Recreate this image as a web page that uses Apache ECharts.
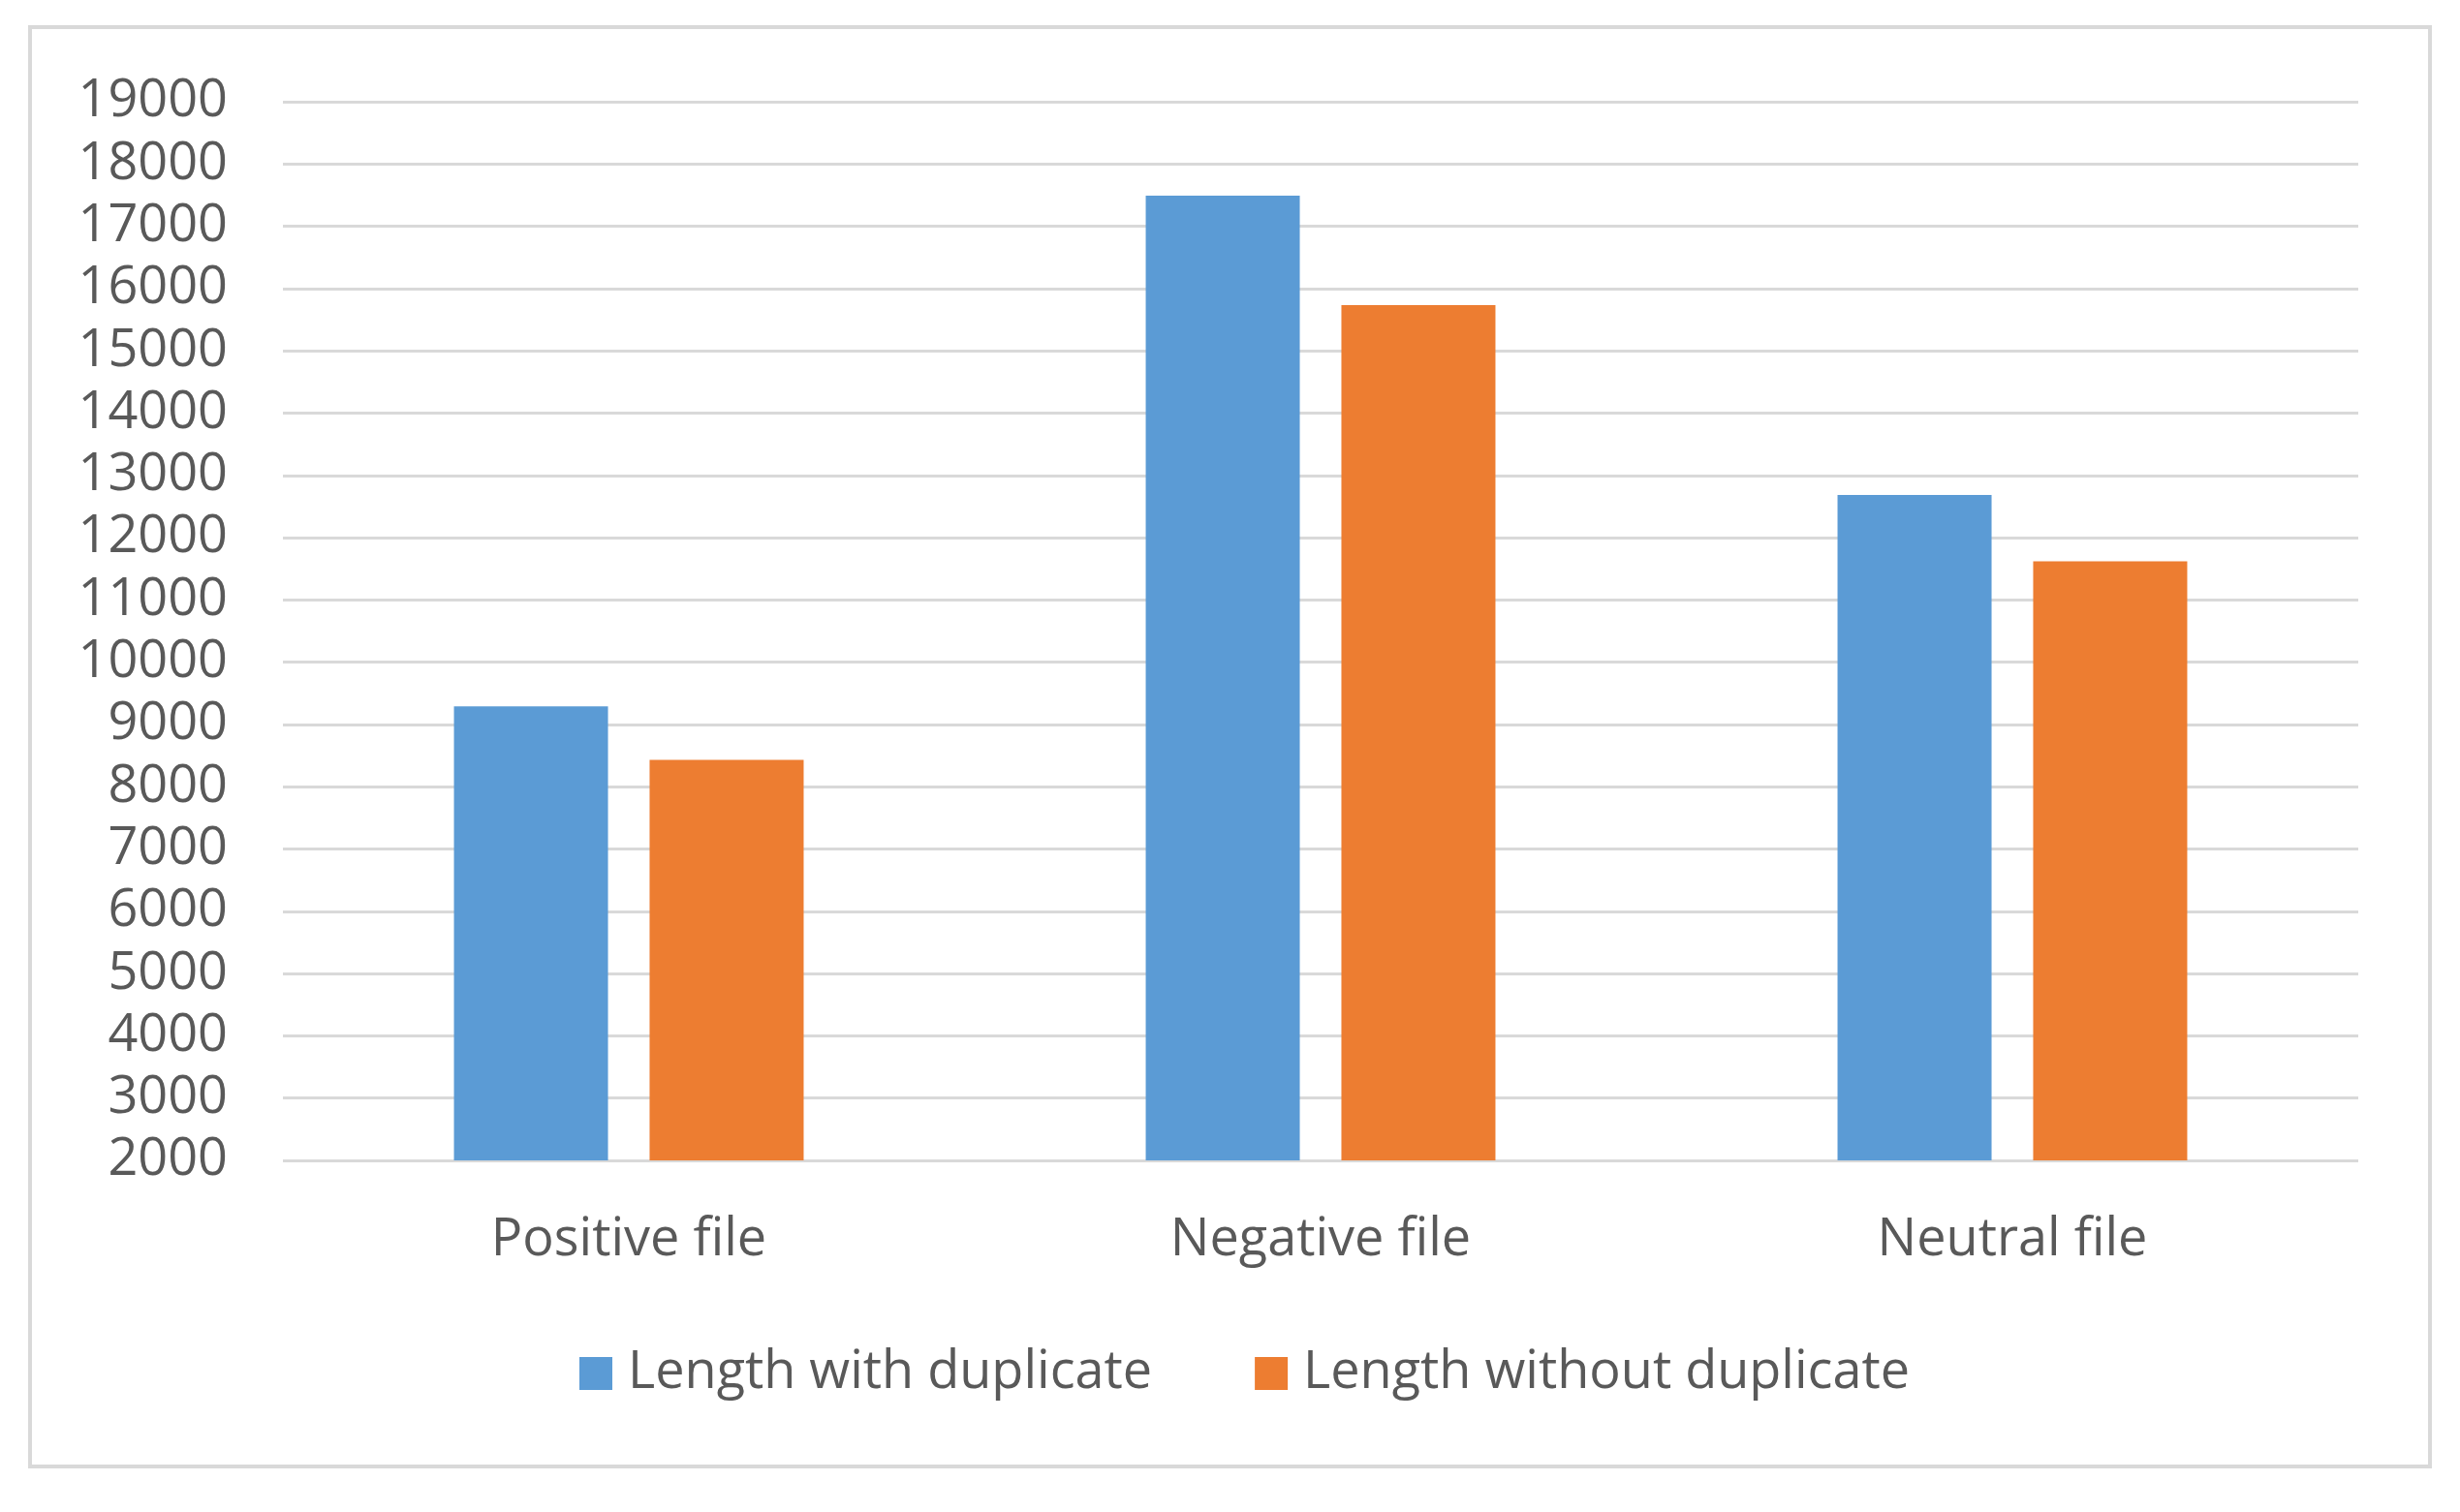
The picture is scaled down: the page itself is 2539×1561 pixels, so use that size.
<!DOCTYPE html>
<html>
<head>
<meta charset="utf-8">
<script src="https://cdn.jsdelivr.net/npm/echarts@6/dist/echarts.min.js"></script>
<style>
html,body{margin:0;padding:0;background:#fff;}
#chart{width:2539px;height:1561px;}
</style>
</head>
<body>
<div id="chart"></div>
<script>
const categories = ['Positive file', 'Negative file', 'Neutral file'];
const seriesNames = ['Length with duplicate', 'Length without duplicate'];
const withDuplicate = [9290, 17490, 12685];
const withoutDuplicate = [8430, 15735, 11620];
const yMin = 2000, yMax = 19000, yStep = 1000;

const FONT = 'Open Sans';
const FS = 54;
const TXT = '#595959';
const chart = echarts.init(document.getElementById('chart'));
chart.setOption({
  backgroundColor: '#ffffff',
  animation: false,
  graphic: [{
    type: 'rect',
    shape: { x: 31, y: 28, width: 2477, height: 1486 },
    style: { fill: 'none', stroke: '#d9d9d9', lineWidth: 4 },
    silent: true
  }],
  grid: { left: 292, right: 105, top: 105, bottom: 363, containLabel: false },
  legend: {
    data: seriesNames,
    left: 593,
    top: 1386,
    itemWidth: 34,
    itemHeight: 34,
    itemGap: 106,
    icon: 'rect',
    textStyle: { fontFamily: FONT, fontSize: FS, color: TXT, padding: [0, 0, 0, 11] }
  },
  xAxis: {
    type: 'category',
    data: categories,
    axisLine: { show: false },
    axisTick: { show: false },
    axisLabel: { fontFamily: FONT, fontSize: FS, color: TXT, margin: 56 }
  },
  yAxis: {
    type: 'value',
    min: yMin, max: yMax, interval: yStep,
    axisLine: { show: false },
    axisTick: { show: false },
    splitLine: { lineStyle: { color: '#d9d9d9', width: 3 } },
    axisLabel: { fontFamily: FONT, fontSize: FS, color: TXT, margin: 57,
      formatter: v => String(v) }
  },
  series: [
    { name: seriesNames[0], type: 'bar', data: withDuplicate, barWidth: 159, barGap: '27%',
      itemStyle: { color: '#5B9BD5' } },
    { name: seriesNames[1], type: 'bar', data: withoutDuplicate, barWidth: 159, barGap: '27%',
      itemStyle: { color: '#ED7D31' } }
  ]
});
</script>
</body>
</html>
